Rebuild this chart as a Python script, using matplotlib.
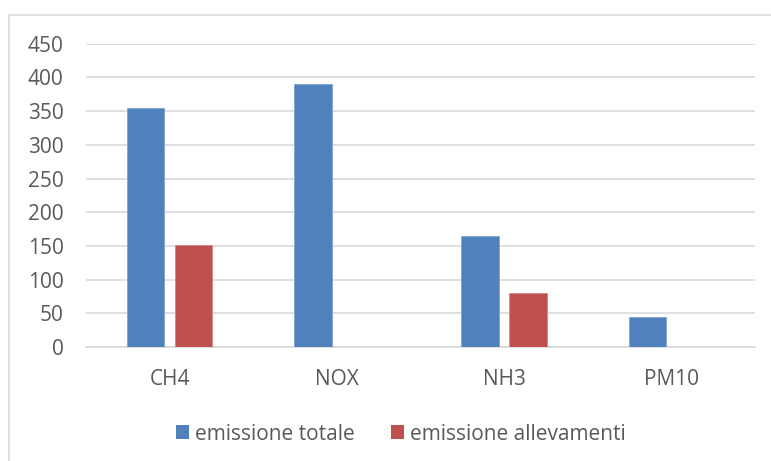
import numpy as np
import matplotlib
matplotlib.use('Agg')
import matplotlib.pyplot as plt
from matplotlib.patches import Rectangle, Patch

categories = ['CH4', 'NOX', 'NH3', 'PM10']
emissione_totale = [354, 390, 165, 45]
emissione_allevamenti = [152, 0, 80, 0]
series_names = ['emissione totale', 'emissione allevamenti']
yticks = list(range(0, 451, 50))

blue = '#4F81BD'
red = '#C0504D'
text_col = '#595959'
grid_col = '#D9D9D9'

plt.rcParams['font.family'] = ['Open Sans', 'DejaVu Sans']

fig = plt.figure(figsize=(7.71, 4.61), dpi=100)
ax = fig.add_axes([0.1115, 0.2473, 0.8675, 0.6577])

x = np.arange(len(categories))
width = 0.224
offset = 0.143
ax.bar(x - offset, emissione_totale, width, color=blue, edgecolor='#7FA3D1', linewidth=0.6, zorder=3)
ax.bar(x + offset, emissione_allevamenti, width, color=red, edgecolor='#D98583', linewidth=0.6, zorder=3)

ax.set_xlim(-0.5, len(categories) - 0.5)
ax.set_ylim(0, 450)
ax.set_yticks(yticks)
ax.set_xticks(x)
ax.set_xticklabels(categories)
ax.yaxis.grid(True, color=grid_col, linewidth=1.2, zorder=0)
ax.set_axisbelow(True)
for s in ['top', 'right', 'left']:
    ax.spines[s].set_visible(False)
ax.spines['bottom'].set_color(grid_col)
ax.spines['bottom'].set_linewidth(1.2)
ax.tick_params(axis='both', length=0, labelsize=15, colors=text_col)
ax.tick_params(axis='x', pad=16)
ax.tick_params(axis='y', pad=16)

handles = [Patch(facecolor=blue), Patch(facecolor=red)]
fig.legend(handles, series_names, loc='center', bbox_to_anchor=(0.52, 0.058), ncol=2,
           frameon=False, fontsize=15, labelcolor=text_col, handlelength=0.65,
           handleheight=0.65, handletextpad=0.3, columnspacing=1.7)

# chart area border
fig.patches.append(Rectangle((9 / 771, -0.05), 1.5, 1 - 15 / 461 + 0.05, transform=fig.transFigure,
                             fill=False, edgecolor='#D9D9D9', linewidth=1.2))

fig.savefig('out.png', dpi=100)
